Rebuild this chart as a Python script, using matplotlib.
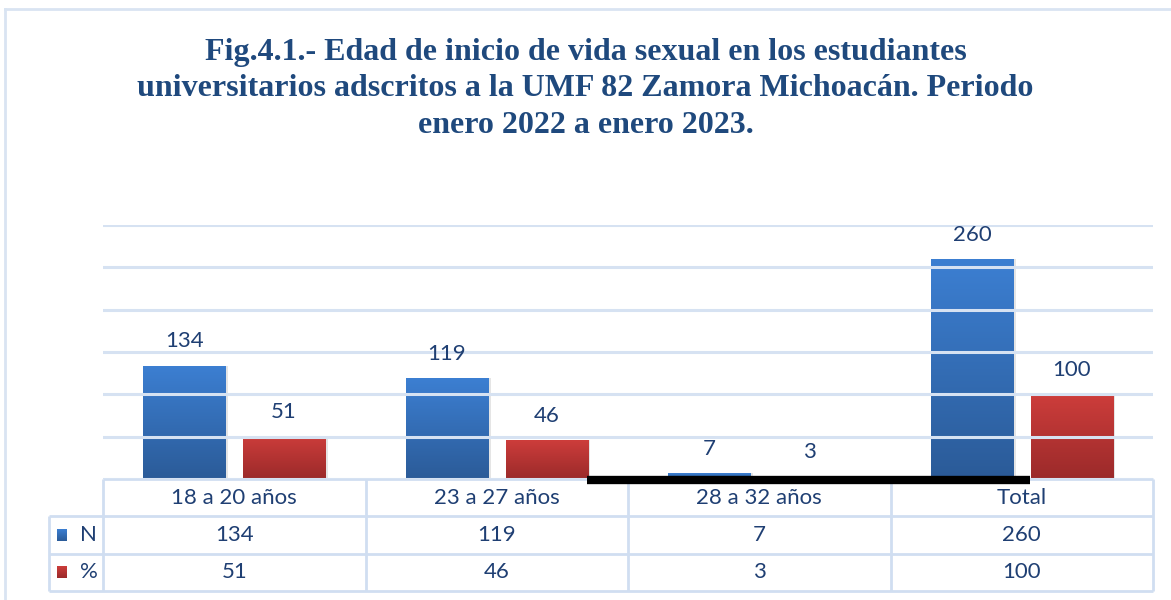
import numpy as np
import matplotlib
matplotlib.use("Agg")
import matplotlib.pyplot as plt
from matplotlib.colors import LinearSegmentedColormap
from matplotlib.patches import Rectangle
from matplotlib.lines import Line2D

# ---------------- data ----------------
categories = ["18 a 20 años", "23 a 27 años", "28 a 32 años", "Total"]
series_names = ["N", "%"]
n_values = [134, 119, 7, 260]
pct_values = [51, 46, 3, 100]
y_ticks = [0, 50, 100, 150, 200, 250, 300]

# ---------------- style ----------------
W, H = 1171, 600
DPI = 100
text_col = "#1f3f73"
grid_col = "#d6e2f2"
table_col = "#d0def1"
blue_top, blue_bot = "#3c7fd2", "#2b5b98"
red_top, red_bot = "#cd3d3b", "#9b2a2a"
label_font = "Lato"
fs = 16

fig = plt.figure(figsize=(W / DPI, H / DPI), dpi=DPI)

def px_rect(x0, y0, x1, y1):
    """convert pixel box (top-left origin) to figure fraction rect"""
    return [x0 / W, 1 - y1 / H, (x1 - x0) / W, (y1 - y0) / H]

# figure border (top + left)
fig.add_artist(Line2D([5 / W, 1], [1 - 9 / H, 1 - 9 / H], color="#d9e4f2", lw=2))
fig.add_artist(Line2D([5 / W, 5 / W], [0, 1 - 9 / H], color="#d9e4f2", lw=2))

# title
fig.text(0.5, 1 - 89 / H,
         "Fig.4.1.- Edad de inicio de vida sexual en los estudiantes\n"
         "universitarios adscritos a la UMF 82 Zamora Michoacán. Periodo\n"
         "enero 2022 a enero 2023.",
         ha="center", va="center", fontsize=23, fontweight="bold",
         family="Liberation Serif", color="#1f497d", linespacing=1.32)

# ---------------- data table (below) ----------------
tx = fig.add_axes(px_rect(49, 479, 1153, 591))
tx.set_zorder(1)
x_left = -0.5 - (103 - 49) / 262.5
tx.axis("off")

lk = dict(color=table_col, lw=2, clip_on=False, solid_capstyle="butt")
tx.plot([-0.5, len(categories) - 0.5], [0, 0], **lk)
for r in (1, 2, 3):
    tx.plot([x_left, len(categories) - 0.5], [r, r], **lk)
for c in range(len(categories) + 1):
    tx.plot([c - 0.5, c - 0.5], [0, 3], **lk)
tx.plot([x_left, x_left], [1, 3], **lk)

for i, cat in enumerate(categories):
    tx.text(i, 0.5, cat, ha="center", va="center", fontsize=fs,
            family=label_font, color=text_col)
    tx.text(i, 1.5, str(n_values[i]), ha="center", va="center", fontsize=fs,
            family=label_font, color=text_col)
    tx.text(i, 2.5, str(pct_values[i]), ha="center", va="center", fontsize=fs,
            family=label_font, color=text_col)

cm_blue = LinearSegmentedColormap.from_list("b", [blue_bot, blue_top])
cm_red = LinearSegmentedColormap.from_list("r", [red_bot, red_top])
grad = np.linspace(0, 1, 256).reshape(-1, 1)

key_w = 10 / 262.5
for r, (name, cmap) in enumerate(zip(series_names, [cm_blue, cm_red])):
    kx0 = x_left + 8 / 262.5
    tx.imshow(grad, extent=[kx0, kx0 + key_w, r + 1.66, r + 1.34],
              origin="lower", cmap=cmap, aspect="auto")
    tx.text(x_left + 31 / 262.5, r + 1.5, name, ha="left", va="center",
            fontsize=fs, family=label_font, color=text_col)
tx.set_xlim(x_left, len(categories) - 0.5)
tx.set_ylim(3, 0)

# ---------------- bar axes ----------------
ax = fig.add_axes(px_rect(103, 225, 1153, 479))
ax.set_zorder(2)
ax.patch.set_visible(False)
x = np.arange(len(categories))
bw = 0.3125
off = 0.19
for s in ax.spines.values():
    s.set_visible(False)
ax.set_xticks([])
ax.set_yticks([])

def grad_bars(xs, vals, cmap):
    bars = ax.bar(xs, vals, width=bw, color="none", zorder=2)
    for b in bars:
        x0, w, h = b.get_x(), b.get_width(), b.get_height()
        ax.add_patch(Rectangle((x0 + 0.004, 0), w + 0.006, h, color="#000000",
                               alpha=0.10, zorder=1.5, lw=0))
        im = ax.imshow(grad, extent=[x0, x0 + w, 0, h], origin="lower",
                       cmap=cmap, aspect="auto", zorder=2)
        im.set_clip_path(b)
    return bars

grad_bars(x - off, n_values, cm_blue)
grad_bars(x + off, pct_values, cm_red)
ax.set_xlim(-0.5, len(categories) - 0.5)
ax.set_ylim(y_ticks[0], y_ticks[-1])

for t in y_ticks:
    ax.axhline(t, color=grid_col, lw=2.2, zorder=3)

lab_off = 28.5
for xi, v in zip(x - off, n_values):
    ax.text(xi, v + lab_off, str(v), ha="center", va="center", fontsize=fs,
            family=label_font, color=text_col, zorder=4, clip_on=False)
for xi, v in zip(x + off, pct_values):
    ax.text(xi, v + lab_off, str(v), ha="center", va="center", fontsize=fs,
            family=label_font, color=text_col, zorder=4, clip_on=False)

# black stroke artifact near baseline
ax.plot([1.344, 3.031], [-0.6, -0.6], color="black", lw=6, solid_capstyle="butt",
        clip_on=False, zorder=5)

fig.savefig("out.png", dpi=DPI)
